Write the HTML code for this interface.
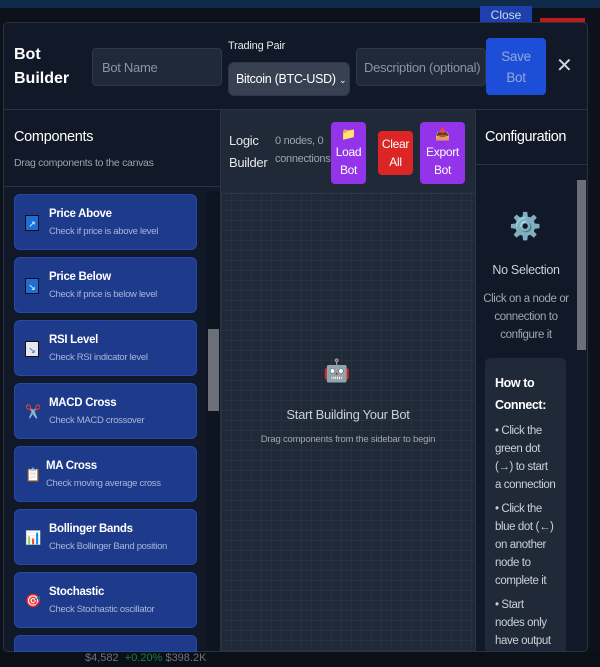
<!DOCTYPE html>
<html><head><meta charset="utf-8"><style>
*{box-sizing:border-box;margin:0;padding:0}
body{width:600px;height:667px;overflow:hidden;background:#0d111a;font-family:"Liberation Sans",sans-serif;position:relative}
.a{position:absolute}
.modal{left:3px;top:22px;width:585px;height:630px;background:#111827;border:1px solid #2a3344;border-radius:5px;overflow:hidden}
.inp{background:#1f2937;border:1px solid #2d3748;border-radius:4px;color:#8b94a3;font-size:13px;white-space:nowrap;overflow:hidden;letter-spacing:-0.3px}
.card{left:14px;width:183px;height:56px;background:#1e3a8a;border-radius:6px;border:1px solid #2748a8}
.card .t{position:absolute;left:34px;top:13px;color:#fff;font-size:11.5px;font-weight:bold;letter-spacing:-0.3px;white-space:nowrap}
.card .s{position:absolute;left:34px;top:31px;color:#a8b6d8;font-size:9.5px;letter-spacing:-0.3px;white-space:nowrap}
.card .i{position:absolute;left:10px;top:20px;width:14px;height:16px;font-size:13px;line-height:16px}
.btn{color:#fff;font-size:12px;text-align:center;border-radius:4px;line-height:18px;letter-spacing:-0.3px}
</style></head><body>
<div class="a" style="left:0;top:0;width:600px;height:8px;background:#102a4a"></div>
<div class="a" style="left:480px;top:6px;width:52px;height:18px;background:#1e40af;color:#cfd8ec;font-size:12px;text-align:center;line-height:18px">Close</div>
<div class="a" style="left:540px;top:18px;width:45px;height:10px;background:#b91c1c"></div>
<div class="a" style="left:0;top:652px;width:600px;height:15px;background:#0b0f17;color:#6b7280;font-size:11px;padding-left:85px">$4,582 &nbsp;<span style="color:#15803d">+0.20%</span> $398.2K</div>
<div class="a modal">
 <div class="a" style="left:10px;top:20px;color:#fff;font-size:16px;font-weight:bold;line-height:24px">Bot<br>Builder</div>
 <div class="a inp" style="left:88px;top:25px;width:130px;height:38px;padding:11px 9px">Bot Name</div>
 <div class="a" style="left:224px;top:17px;color:#e5e7eb;font-size:11px;letter-spacing:-0.2px">Trading Pair</div>
 <div class="a inp" style="left:224px;top:39px;width:122px;height:34px;background:#374151;color:#fff;font-size:12.5px;padding:9px 7px;border-radius:6px">Bitcoin (BTC-USD) <span style="font-size:9px">&#8964;</span></div>
 <div class="a inp" style="left:352px;top:25px;width:130px;height:38px;padding:11px 7px">Description (optional)</div>
 <div class="a btn" style="left:482px;top:15px;width:60px;height:57px;background:#1d4ed8;color:#93a8d8;font-size:13.5px;padding-top:8px;line-height:21px">Save<br>Bot</div>
 <div class="a" style="left:552px;top:30px;color:#d1d5db;font-size:20px">✕</div>
 <div class="a" style="left:0;top:86px;width:585px;height:1px;background:#2a3344"></div>
 <div class="a" style="left:10px;top:106px;color:#fff;font-size:14.5px;letter-spacing:-0.3px">Components</div>
 <div class="a" style="left:10px;top:134px;color:#9ca3af;font-size:10.5px;letter-spacing:-0.3px">Drag components to the canvas</div>
 <div class="a" style="left:0;top:163px;width:217px;height:1px;background:#2a3344"></div>
 <div class="a" style="left:203px;top:168px;width:13px;height:462px;background:#0f1520"></div>
 <div class="a" style="left:204px;top:306px;width:11px;height:82px;background:#6b6f77"></div>
 <div class="a" style="left:216px;top:86px;width:1px;height:544px;background:#2a3344"></div>
 <div class="a" style="left:217px;top:87px;width:254px;height:543px;background:#1f2937;background-image:linear-gradient(#28313f 1px,transparent 1px),linear-gradient(90deg,#28313f 1px,transparent 1px);background-size:10px 10px"></div>
 <div class="a" style="left:217px;top:87px;width:254px;height:84px;background:#1f2937;border-bottom:1px solid #2d3748"></div>
 <div class="a" style="left:225px;top:107px;color:#e5e7eb;font-size:13px;line-height:22px;letter-spacing:-0.3px">Logic<br>Builder</div>
 <div class="a" style="left:271px;top:109px;color:#9ca3af;font-size:11px;line-height:18px;width:57px;white-space:nowrap;overflow:hidden;letter-spacing:-0.3px">0 nodes, 0<br>connections</div>
 <div class="a btn" style="left:327px;top:99px;width:35px;height:62px;background:#9333ea;padding-top:3px">📁<br>Load<br>Bot</div>
 <div class="a btn" style="left:374px;top:108px;width:35px;height:44px;background:#dc2626;padding-top:4px">Clear<br>All</div>
 <div class="a btn" style="left:416px;top:99px;width:45px;height:62px;background:#9333ea;padding-top:3px">📥<br>Export<br>Bot</div>
 <div class="a" style="left:319px;top:335px;font-size:22px">🤖</div>
 <div class="a" style="left:217px;top:384px;width:254px;text-align:center;color:#cbd0d8;font-size:13px;letter-spacing:-0.3px">Start Building Your Bot</div>
 <div class="a" style="left:217px;top:411px;width:254px;text-align:center;color:#a0a6b0;font-size:9.5px;letter-spacing:-0.2px">Drag components from the sidebar to begin</div>
 <div class="a" style="left:471px;top:86px;width:1px;height:544px;background:#2a3344"></div>
 <div class="a" style="left:481px;top:106px;color:#fff;font-size:14.5px;letter-spacing:-0.4px">Configuration</div>
 <div class="a" style="left:472px;top:141px;width:113px;height:1px;background:#2a3344"></div>
 <div class="a" style="left:573px;top:157px;width:9px;height:170px;background:#6b6f77"></div>
 <div class="a" style="left:505px;top:188px;font-size:26px;color:#fff">⚙️</div>
 <div class="a" style="left:472px;top:240px;width:100px;text-align:center;color:#cbd0d8;font-size:12.5px;letter-spacing:-0.3px">No Selection</div>
 <div class="a" style="left:472px;top:267px;width:100px;text-align:center;color:#a0a6b0;font-size:11.5px;line-height:18px;letter-spacing:-0.4px">Click on a node or connection to configure it</div>
 <div class="a" style="left:481px;top:335px;width:81px;height:300px;background:#1f2937;border-radius:5px;padding:14px 9px 0 10px;color:#cbd0d8;font-size:11.5px;line-height:18px;letter-spacing:-0.4px">
  <div style="color:#fff;font-weight:bold;font-size:12.5px;line-height:22px;margin-bottom:6px">How to Connect:</div>
  <div style="margin-bottom:6px">• Click the green dot (→) to start a&nbsp;connection</div>
  <div style="margin-bottom:6px">• Click the blue dot (←) on another node to complete it</div>
  <div>• Start<br>nodes only have output</div>
 </div>
</div>
<div class="a card" style="top:194px"><div class="i" style="background:#1d6fd6;border:1px solid #111;color:#fff;font-size:9px;text-align:center">↗</div><div class="t">Price Above</div><div class="s">Check if price is above level</div></div>
<div class="a card" style="top:257px"><div class="i" style="background:#1d6fd6;border:1px solid #111;color:#fff;font-size:9px;text-align:center">↘</div><div class="t">Price Below</div><div class="s">Check if price is below level</div></div>
<div class="a card" style="top:320px"><div class="i" style="background:#e5e7eb;border:1px solid #111;color:#2563eb;font-size:9px;text-align:center">↘</div><div class="t">RSI Level</div><div class="s">Check RSI indicator level</div></div>
<div class="a card" style="top:383px"><div class="i">✂️</div><div class="t">MACD Cross</div><div class="s">Check MACD crossover</div></div>
<div class="a card" style="top:446px"><div class="i">📋</div><div class="t" style="left:31px">MA Cross</div><div class="s" style="left:31px">Check moving average cross</div></div>
<div class="a card" style="top:509px"><div class="i">📊</div><div class="t">Bollinger Bands</div><div class="s">Check Bollinger Band position</div></div>
<div class="a card" style="top:572px"><div class="i">🎯</div><div class="t">Stochastic</div><div class="s">Check Stochastic oscillator</div></div>
<div class="a card" style="top:635px;height:17px;border-radius:6px 6px 0 0"></div>
</body></html>
